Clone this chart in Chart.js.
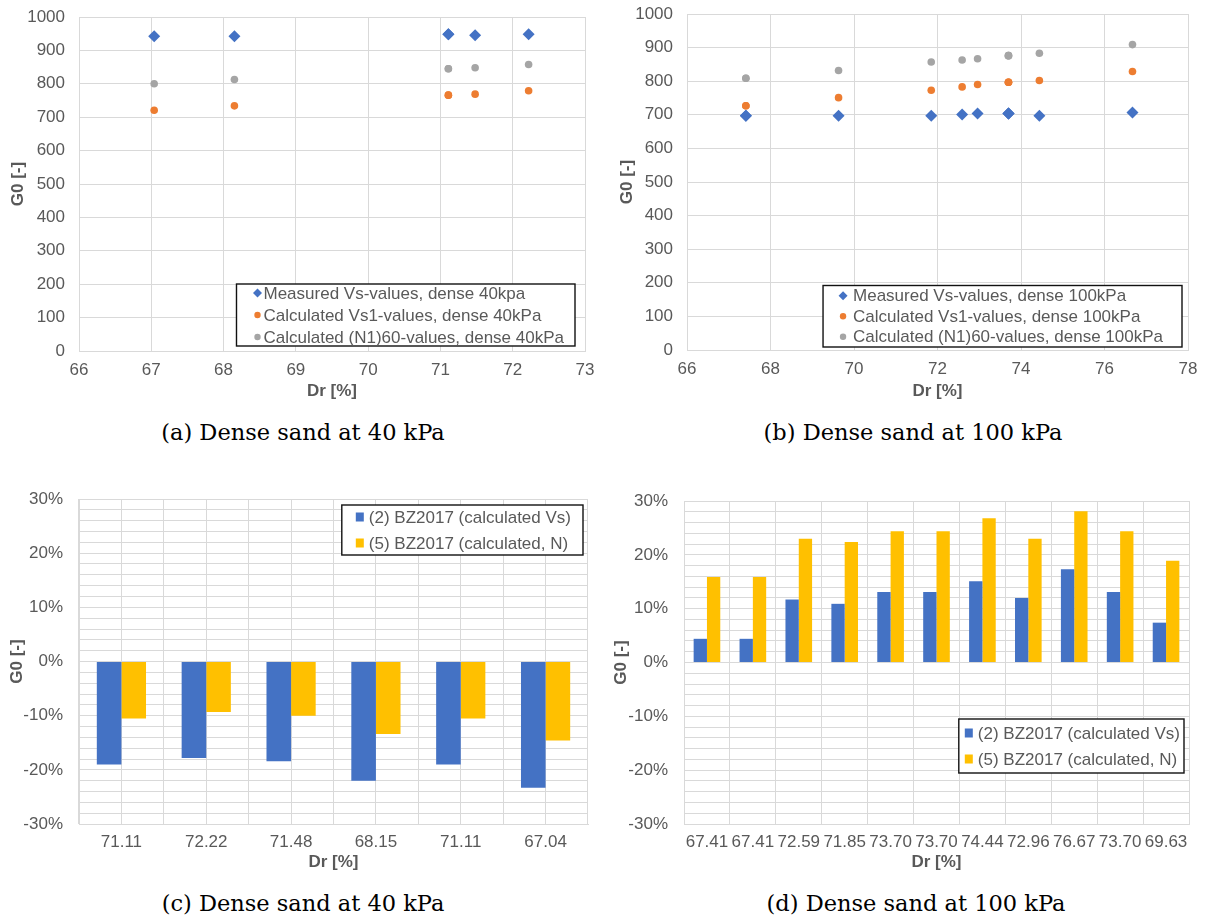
<!DOCTYPE html>
<html>
<head>
<meta charset="utf-8">
<script src="https://cdn.jsdelivr.net/npm/chart.js@4.4.1/dist/chart.umd.min.js"></script>
<style>
  body { margin: 0; background: #fff; width: 1207px; height: 923px; position: relative; overflow: hidden; }
  .panel { position: absolute; }
  .caption { position: absolute; width: 400px; height: 28px; line-height: 28px; text-align: center;
    font-family: "DejaVu Serif", "Liberation Serif", serif; font-size: 22.5px; color: #000; }
</style>
</head>
<body>
<div class="panel" style="left:0px;top:0px;width:600px;height:402px"><canvas id="chartA"></canvas></div>
<div class="panel" style="left:607px;top:0px;width:600px;height:402px"><canvas id="chartB"></canvas></div>
<div class="panel" style="left:0px;top:480px;width:600px;height:393px"><canvas id="chartC"></canvas></div>
<div class="panel" style="left:607px;top:480px;width:600px;height:393px"><canvas id="chartD"></canvas></div>

<div class="caption" style="left:103px;top:418px">(a) Dense sand at 40 kPa</div>
<div class="caption" style="left:713px;top:418px">(b) Dense sand at 100 kPa</div>
<div class="caption" style="left:103px;top:889px">(c) Dense sand at 40 kPa</div>
<div class="caption" style="left:716px;top:889px">(d) Dense sand at 100 kPa</div>

<script>
'use strict';

// tests at 40 kPa, in test order (Dr [%])
const dr40 = [ '71.11', '72.22', '71.48', '68.15', '71.11', '67.04' ];
const measuredVs40 = [ 948, 948, 945, 942, 948, 942 ];
const calcVs1_40 = [ 766, 779, 769, 734, 766, 721 ];
const calcN160_40 = [ 845, 858, 848, 813, 845, 800 ];
// deviation from measured G0 [%]
const devVs40 = [ -19.0, -17.8, -18.4, -22.0, -19.0, -23.3 ];
const devN40 = [ -10.5, -9.3, -10.0, -13.4, -10.5, -14.6 ];

// tests at 100 kPa
const dr100 = [ '67.41', '67.41', '72.59', '71.85', '73.70', '73.70', '74.44', '72.96', '76.67', '73.70', '69.63' ];
const measuredVs100 = [ 697, 697, 701, 697, 704, 704, 697, 704, 707, 704, 697 ];
const calcVs1_100 = [ 727, 727, 783, 773, 797, 797, 802, 790, 829, 797, 751 ];
const calcN160_100 = [ 809, 809, 863, 857, 876, 876, 883, 867, 909, 876, 832 ];
const devVs100 = [ 4.4, 4.4, 11.7, 10.9, 13.1, 13.1, 15.1, 12.0, 17.3, 13.1, 7.4 ];
const devN100 = [ 15.9, 15.9, 23.0, 22.4, 24.4, 24.4, 26.8, 23.0, 28.1, 24.4, 18.9 ];

const g0Ticks = [ 0, 1000, 100 ];
const devTicks = [ -30, 30, 2 ];

const BLUE = '#4472C4';
const ORANGE = '#ED7D31';
const GREY = '#A5A5A5';
const YELLOW = '#FFC000';
const GRID = '#D9D9D9';
const TEXT = '#595959';
const FONT = '"Liberation Sans", Arial, sans-serif';

Chart.defaults.font.family = FONT;
Chart.defaults.color = TEXT;

function drawMarker( ctx, style, x, y ) {
  ctx.beginPath();
  if ( style === 'rectRot' ) {
    ctx.moveTo( x - 4.5, y );
    ctx.lineTo( x, y - 4.5 );
    ctx.lineTo( x + 4.5, y );
    ctx.lineTo( x, y + 4.5 );
    ctx.closePath();
    ctx.fill();
  } else if ( style === 'circle' ) {
    ctx.arc( x, y, 3.2, 0, Math.PI * 2 );
    ctx.fill();
  } else {
    ctx.fillRect( x - 4, y - 4.5, 8, 9 );
  }
}

// framed legend drawn inside the plot area
const boxLegend = {
  id: 'boxLegend',
  afterDraw( chart, args, opts ) {
    const ctx = chart.ctx;
    const area = chart.chartArea;
    const sets = chart.data.datasets;
    ctx.save();
    ctx.font = '17px ' + FONT;
    let textW = 0;
    sets.forEach( d => { textW = Math.max( textW, ctx.measureText( d.label ).width ); } );
    const w = opts.textLeft + textW + opts.padRight;
    const h = sets.length * opts.lineHeight + opts.padY * 2;
    const x = area.right - opts.right - w;
    const y = opts.top !== undefined ? area.top + opts.top : area.bottom - opts.bottom - h;
    ctx.fillStyle = '#fff';
    ctx.fillRect( x, y, w, h );
    ctx.strokeStyle = '#111';
    ctx.lineWidth = 1.4;
    ctx.strokeRect( x, y, w, h );
    ctx.textBaseline = 'middle';
    sets.forEach( ( d, i ) => {
      const cy = y + opts.padY + opts.lineHeight * ( i + 0.5 );
      ctx.fillStyle = d.backgroundColor;
      drawMarker( ctx, d.pointStyle || 'rect', x + opts.markerX, cy );
      ctx.fillStyle = TEXT;
      ctx.fillText( d.label, x + opts.textLeft, cy + 1 );
    } );
    ctx.restore();
  }
};

function xyPoints( xs, ys ) {
  return xs.map( ( v, i ) => ( { x: parseFloat( v ), y: ys[i] } ) );
}

function axisTitle( text, padding ) {
  return { display: true, text: text, color: TEXT, padding: padding, font: { size: 17, weight: 'bold' } };
}

// fixed axis sizes, and no extra room for overhanging tick labels
function fixWidth( w ) {
  return s => { s.width = w; s.paddingTop = 0; s.paddingBottom = 0; };
}
function fixHeight( h ) {
  return s => { s.height = h; s.paddingLeft = 0; s.paddingRight = 0; };
}

function scatterChart( id, cfg ) {
  return new Chart( document.getElementById( id ), {
    type: 'scatter',
    data: {
      datasets: [
        { label: cfg.names[0], data: xyPoints( cfg.dr, cfg.measured ), pointStyle: 'rectRot', pointRadius: 6, backgroundColor: BLUE, borderWidth: 0 },
        { label: cfg.names[1], data: xyPoints( cfg.dr, cfg.vs1 ), pointStyle: 'circle', pointRadius: 3.8, backgroundColor: ORANGE, borderWidth: 0 },
        { label: cfg.names[2], data: xyPoints( cfg.dr, cfg.n160 ), pointStyle: 'circle', pointRadius: 3.8, backgroundColor: GREY, borderWidth: 0 }
      ]
    },
    options: {
      responsive: true,
      maintainAspectRatio: false,
      animation: false,
      events: [],
      layout: { padding: cfg.padding },
      plugins: { legend: { display: false }, tooltip: { enabled: false }, boxLegend: cfg.legend },
      scales: {
        x: {
          type: 'linear', min: cfg.xRange[0], max: cfg.xRange[1],
          ticks: { stepSize: cfg.xRange[2], padding: 9, font: { size: 17 }, callback: v => String( v ) },
          grid: { color: GRID, drawTicks: false },
          border: { color: GRID },
          title: axisTitle( 'Dr [%]', 0 ),
          afterFit: fixHeight( cfg.xHeight )
        },
        y: {
          min: g0Ticks[0], max: g0Ticks[1],
          ticks: { stepSize: g0Ticks[2], padding: 14, font: { size: 17 }, callback: v => String( v ) },
          grid: { color: GRID, drawTicks: false },
          border: { color: GRID },
          title: axisTitle( 'G0 [-]', { top: cfg.yTitlePad } ),
          afterFit: fixWidth( cfg.yWidth )
        }
      }
    },
    plugins: [ boxLegend ]
  } );
}

function barChart( id, cfg ) {
  let scales = {
    x: {
      ticks: { padding: 8, font: { size: 17 }, maxRotation: 0, autoSkip: false },
      grid: { color: GRID, drawTicks: false },
      border: { color: GRID },
      title: axisTitle( 'Dr [%]', 0 ),
      afterFit: fixHeight( cfg.xHeight )
    },
    y: {
      min: devTicks[0], max: devTicks[1],
      ticks: {
        stepSize: devTicks[2], padding: 16, autoSkip: false, font: { size: 17 },
        callback: v => ( Math.round( v ) % 10 === 0 ? Math.round( v ) + '%' : '' )
      },
      grid: { color: GRID, drawTicks: false },
      border: { color: GRID },
      title: axisTitle( 'G0 [-]', { top: cfg.yTitlePad } ),
      afterFit: fixWidth( cfg.yWidth )
    }
  };
  if ( cfg.centreLines ) {
    // extra grid lines through the middle of each category
    scales.xMid = {
      type: 'category', position: 'bottom', offset: true,
      ticks: { display: false },
      grid: { color: GRID, offset: false, drawTicks: false },
      border: { display: false },
      afterFit: fixHeight( 0 )
    };
  }
  return new Chart( document.getElementById( id ), {
    type: 'bar',
    data: {
      labels: cfg.dr,
      datasets: [
        { label: '(2) BZ2017 (calculated Vs)', data: cfg.vs, backgroundColor: BLUE, categoryPercentage: 0.58, barPercentage: 1 },
        { label: '(5) BZ2017 (calculated, N)', data: cfg.n, backgroundColor: YELLOW, categoryPercentage: 0.58, barPercentage: 1 }
      ]
    },
    options: {
      responsive: true,
      maintainAspectRatio: false,
      animation: false,
      events: [],
      layout: { padding: cfg.padding },
      plugins: { legend: { display: false }, tooltip: { enabled: false }, boxLegend: cfg.legend },
      scales: scales
    },
    plugins: [ boxLegend ]
  } );
}

scatterChart( 'chartA', {
  dr: dr40, measured: measuredVs40, vs1: calcVs1_40, n160: calcN160_40,
  names: [ 'Measured Vs-values, dense 40kpa', 'Calculated Vs1-values, dense 40kPa', 'Calculated (N1)60-values, dense 40kPa' ],
  xRange: [ 66, 73, 1 ],
  padding: { top: 17, right: 15, left: 0, bottom: 0 },
  xHeight: 51, yWidth: 79, yTitlePad: 8.4,
  legend: { right: 10, bottom: 5, lineHeight: 22, padY: -2, markerX: 21, textLeft: 27, padRight: 11 }
} );

scatterChart( 'chartB', {
  dr: dr100, measured: measuredVs100, vs1: calcVs1_100, n160: calcN160_100,
  names: [ 'Measured Vs-values, dense 100kPa', 'Calculated Vs1-values, dense 100kPa', 'Calculated (N1)60-values, dense 100kPa' ],
  xRange: [ 66, 78, 2 ],
  padding: { top: 14, right: 19, left: 0, bottom: 0 },
  xHeight: 52, yWidth: 80, yTitlePad: 10.4,
  legend: { right: 6, bottom: 3, lineHeight: 20.5, padY: 0, markerX: 20, textLeft: 30, padRight: 19 }
} );

barChart( 'chartC', {
  dr: dr40, vs: devVs40, n: devN40, centreLines: true,
  padding: { top: 19, right: 12, left: 0, bottom: 0 },
  xHeight: 49, yWidth: 79, yTitlePad: 7.4,
  legend: { right: 5, top: 6, lineHeight: 26, padY: -1, markerX: 18, textLeft: 27, padRight: 12 }
} );

barChart( 'chartD', {
  dr: dr100, vs: devVs100, n: devN100, centreLines: false,
  padding: { top: 21, right: 18, left: 0, bottom: 0 },
  xHeight: 49, yWidth: 77, yTitlePad: 4.4,
  legend: { right: 5, bottom: 51, lineHeight: 26, padY: 1, markerX: 10, textLeft: 19, padRight: 4 }
} );
</script>
</body>
</html>
